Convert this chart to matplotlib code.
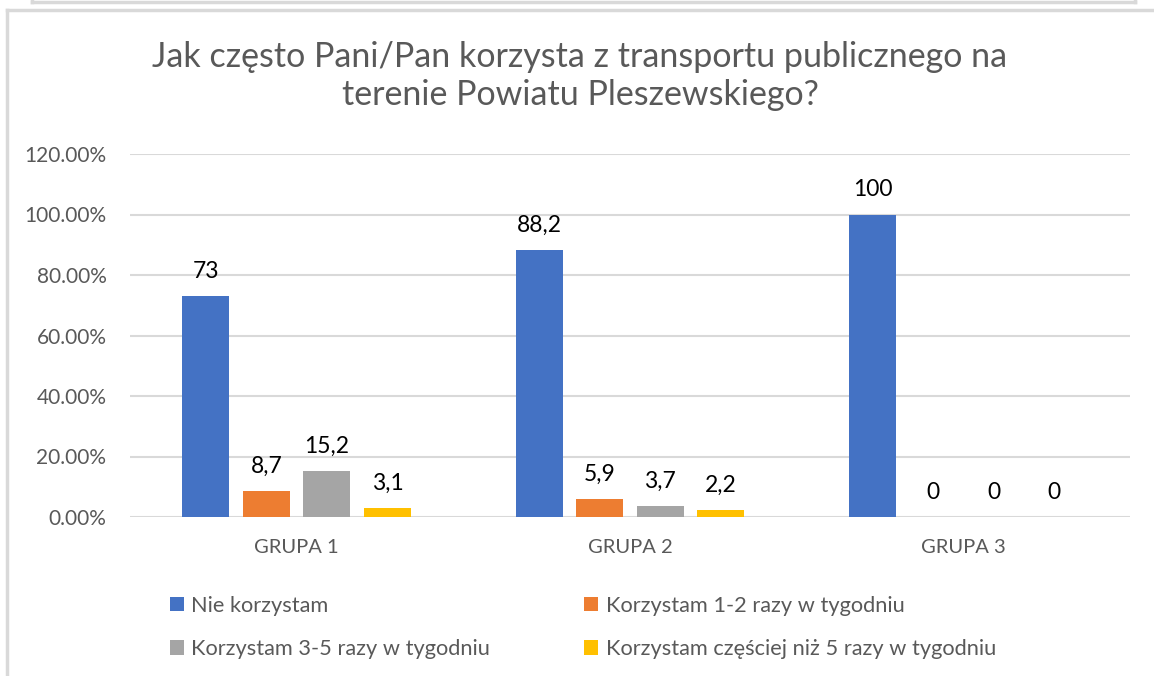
import matplotlib
matplotlib.use("Agg")
import matplotlib.pyplot as plt
from matplotlib.lines import Line2D
import numpy as np

plt.rcParams["font.family"] = ["Lato", "DejaVu Sans"]

# ── dane ──────────────────────────────────────────────
groups = ["GRUPA 1", "GRUPA 2", "GRUPA 3"]
series_names = [
    "Nie korzystam",
    "Korzystam 1-2 razy w tygodniu",
    "Korzystam 3-5 razy w tygodniu",
    "Korzystam częściej niż 5 razy w tygodniu",
]
nie_korzystam = [73, 88.2, 100]
raz_dwa = [8.7, 5.9, 0]
trzy_piec = [15.2, 3.7, 0]
czesciej = [3.1, 2.2, 0]
yticks = [0, 0.2, 0.4, 0.6, 0.8, 1.0, 1.2]
title = "Jak często Pani/Pan korzysta z transportu publicznego na\nterenie Powiatu Pleszewskiego?"

colors = ["#4472C4", "#ED7D31", "#A5A5A5", "#FFC000"]
GRID = "#D9D9D9"
TXT = "#595959"

W, H = 1154, 676
fig = plt.figure(figsize=(W / 100, H / 100), dpi=100)
ax = fig.add_axes([130 / W, 1 - 517 / H, 1000 / W, 363 / H])

x = np.arange(len(groups))
bw = 0.141
step = 0.1815
all_series = [nie_korzystam, raz_dwa, trzy_piec, czesciej]
handles = []
for i, (vals, col) in enumerate(zip(all_series, colors)):
    pos = x + (i - 1.5) * step
    heights = [v / 100 for v in vals]
    bars = ax.bar(pos, heights, width=bw, color=col, zorder=3)
    handles.append(bars)
    for px, v, h in zip(pos, vals, heights):
        lab = f"{v:g}".replace(".", ",")
        ax.annotate(lab, (px, h), xytext=(0, 13), textcoords="offset points",
                    ha="center", va="baseline", fontsize=16.5, color="black")

ax.set_xlim(-0.5, 2.5)
ax.set_ylim(0, 1.2)
ax.set_yticks(yticks)
ax.set_yticklabels([f"{t * 100:.2f}%" for t in yticks])
ax.set_xticks(x)
ax.set_xticklabels(groups)
ax.tick_params(axis="y", length=0, pad=17, labelsize=15, labelcolor=TXT)
ax.tick_params(axis="x", length=0, pad=16, labelsize=14.5, labelcolor=TXT)
ax.grid(axis="y", color=GRID, linewidth=1.5, zorder=0)
for s in ax.spines.values():
    s.set_visible(False)

fig.text(580 / W, 1 - 76 / H, title, ha="center", va="center",
         fontsize=24.5, color=TXT, linespacing=1.2)

# legenda: wiersze jak w oryginale
order = [0, 2, 1, 3]
leg = fig.legend([handles[i] for i in order], [series_names[i] for i in order],
                 ncol=2, loc="upper left", bbox_to_anchor=(150 / W, 1 - 576 / H),
                 frameon=False, fontsize=15.7, labelcolor=TXT,
                 handlelength=0.65, handleheight=0.65, handletextpad=0.35,
                 labelspacing=1.08, columnspacing=4.3)

# ramki obrazka
fig.add_artist(Line2D([7 / W, 7 / W], [0, 1 - 10 / H], color=GRID, lw=2.5))
fig.add_artist(Line2D([7 / W, 1], [1 - 10 / H, 1 - 10 / H], color=GRID, lw=2.5))
fig.add_artist(Line2D([32 / W, 1135 / W], [1 - 2 / H, 1 - 2 / H], color=GRID, lw=2.5))
fig.add_artist(Line2D([32 / W, 32 / W], [1 - 2 / H, 1], color=GRID, lw=2.5))
fig.add_artist(Line2D([1135 / W, 1135 / W], [1 - 2 / H, 1], color=GRID, lw=2.5))

fig.savefig("out.png", dpi=100)
